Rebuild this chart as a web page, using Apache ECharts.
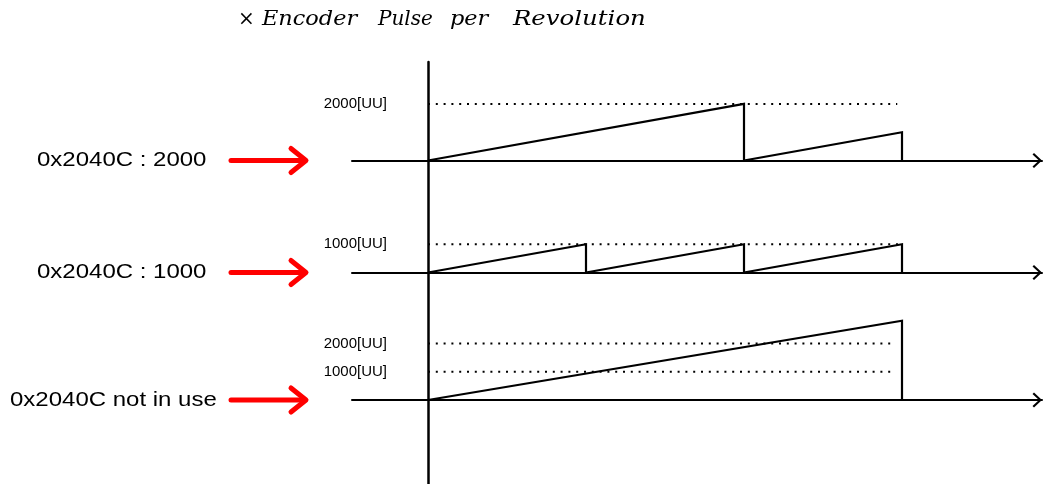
<!DOCTYPE html>
<html><head><meta charset="utf-8">
<script src="https://cdn.jsdelivr.net/npm/echarts@6/dist/echarts.min.js"></script>
<style>html,body{margin:0;padding:0;background:#fff}#c{width:1046px;height:484px}</style>
</head><body><div id="c"></div>
<script>
// ---- text ----
const titleWords = ['×', 'Encoder', 'Pulse', 'per', 'Revolution'];
const rowLabels = ['0x2040C : 2000', '0x2040C : 1000', '0x2040C not in use'];
const unitSuffix = '[UU]';
// ---- data (time in revolutions, position in UU) ----
const row1Time = [0, 2, 2, 3, 3];
const row1Pos  = [0, 2000, 0, 1000, 0];
const row2Time = [0, 1, 1, 2, 2, 3, 3];
const row2Pos  = [0, 1000, 0, 1000, 0, 1000, 0];
const row3Time = [0, 3, 3];
const row3Pos  = [0, 2800, 0];
const row1Levels = [2000];
const row2Levels = [1000];
const row3Levels = [2000, 1000];
const levelEnds  = [2.97, 3.0, 2.96];
const rowMax     = [2500, 2500, 3000];

// ---- layout ----
const axisLeftPx = 352, originPx = 428, axisEndPx = 1042, pxPerRev = 158;
const pxPer1000 = 28.3;
const baselines = [160.5, 272.5, 400];
const xMin = (axisLeftPx - originPx) / pxPerRev;
const xMax = (axisEndPx - originPx) / pxPerRev;
const chevron = 'path://M7.5,0L15,8L13.5,9.5L7.5,3L1.5,9.5L0,8Z';
const titleWordX = [238, 262, 378, 450, 513];
const titleWordScale = [1, 1.12, 1.0, 1.12, 1.22];

const zip = (a, b) => a.map((v, i) => [v, b[i]]);
const rows = [
  {time: row1Time, pos: row1Pos, levels: row1Levels},
  {time: row2Time, pos: row2Pos, levels: row2Levels},
  {time: row3Time, pos: row3Pos, levels: row3Levels}
];

const grid = [], xAxis = [], yAxis = [], series = [];
rows.forEach((r, i) => {
  const h = rowMax[i] / 1000 * pxPer1000;
  grid.push({left: axisLeftPx, width: axisEndPx - axisLeftPx, top: baselines[i] - h, height: h, containLabel: false});
  xAxis.push({
    type: 'value', gridIndex: i, min: xMin, max: xMax,
    axisLine: {show: true, onZero: false, symbol: ['none', chevron], symbolSize: [15, 9.5], symbolOffset: [0, -4.75],
      lineStyle: {color: '#000', width: 2}},
    axisTick: {show: false}, axisLabel: {show: false}, splitLine: {show: false}
  });
  yAxis.push({
    type: 'value', gridIndex: i, min: 0, max: rowMax[i], interval: 1000,
    offset: axisLeftPx - originPx,
    axisLine: {show: false, onZero: false},
    axisTick: {show: false}, splitLine: {show: false},
    axisLabel: {show: true, margin: 41, color: '#000', fontSize: 15, fontFamily: 'Liberation Sans',
      formatter: v => r.levels.includes(v) ? v + unitSuffix : ''}
  });
  r.levels.forEach(L => {
    series.push({
      type: 'line', xAxisIndex: i, yAxisIndex: i, data: [[0, L], [levelEnds[i], L]],
      symbol: 'none', silent: true, z: 1,
      lineStyle: {color: '#000', width: 2, type: [2, 5.8], cap: 'butt'}
    });
  });
  series.push({
    type: 'line', xAxisIndex: i, yAxisIndex: i, data: zip(r.time, r.pos),
    symbol: 'none', silent: true, z: 3, clip: false,
    lineStyle: {color: '#000', width: 2.2, join: 'miter'}
  });
});
// vertical (position) axis spanning all rows
grid.push({left: axisLeftPx, width: axisEndPx - axisLeftPx, top: 62, height: 422});
xAxis.push({type: 'value', gridIndex: 3, min: xMin, max: xMax, show: false, axisLine: {onZero: false}});
yAxis.push({type: 'value', gridIndex: 3, min: 0, max: 1,
  axisLine: {show: true, onZero: true, lineStyle: {color: '#000', width: 2.5}},
  axisTick: {show: false}, axisLabel: {show: false}, splitLine: {show: false}});

// annotations: title, row labels and red arrows
const graphic = [];
titleWords.forEach((w, i) => {
  const italic = i > 0;
  graphic.push({
    type: 'text', x: titleWordX[i], y: 20, scaleX: titleWordScale[i],
    style: {text: w, fontFamily: 'DejaVu Serif', fontStyle: italic ? 'italic' : 'normal', fontSize: 20, fill: '#000',
      align: 'left', verticalAlign: 'middle'}
  });
});
const labelLeft = [37, 37, 10];
baselines.forEach((y, i) => {
  graphic.push({type: 'text', x: labelLeft[i], y: y, scaleX: 1.2,
    style: {text: rowLabels[i], fontFamily: 'Liberation Sans', fontSize: 20, fill: '#000', align: 'left', verticalAlign: 'middle'}});
  graphic.push({type: 'polyline', shape: {points: [[231, y], [305, y]]},
    style: {stroke: '#ff0000', lineWidth: 5, lineCap: 'round', fill: null}});
  graphic.push({type: 'polyline', shape: {points: [[291, y - 12], [306, y], [291, y + 12]]},
    style: {stroke: '#ff0000', lineWidth: 5, lineCap: 'round', lineJoin: 'round', fill: null}});
});

const chart = echarts.init(document.getElementById('c'), null, {renderer: 'canvas'});
chart.setOption({animation: false, backgroundColor: '#fff', grid, xAxis, yAxis, series, graphic});
</script></body></html>
